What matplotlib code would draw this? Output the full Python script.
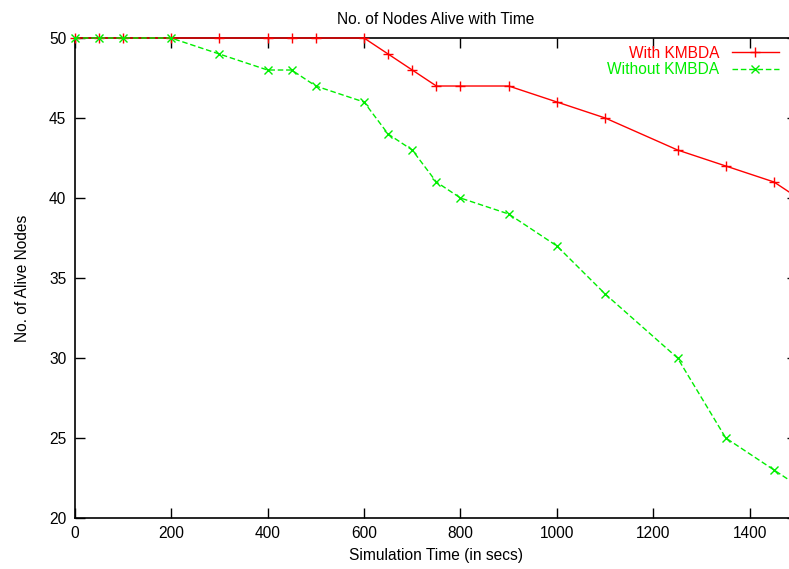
import matplotlib
matplotlib.use("Agg")
import matplotlib.pyplot as plt

plt.rcParams['font.family'] = ['Liberation Sans', 'DejaVu Sans']

time = [0, 50, 100, 200, 300, 400, 450, 500, 600, 650, 700, 750, 800, 900,
        1000, 1100, 1250, 1350, 1450, 1500]
with_kmbda = [50, 50, 50, 50, 50, 50, 50, 50, 50, 49, 48, 47, 47, 47,
              46, 45, 43, 42, 41, 40]
without_kmbda = [50, 50, 50, 50, 49, 48, 48, 47, 46, 44, 43, 41, 40, 39,
                 37, 34, 30, 25, 23, 22]
xticks = [0, 200, 400, 600, 800, 1000, 1200, 1400]
yticks = [20, 25, 30, 35, 40, 45, 50]

fig = plt.figure(figsize=(7.89, 5.69), dpi=100)
ax = fig.add_axes([0.0945, 0.0896, 0.9055 + 0.01, 0.8436])

fs = 11.2
ax.plot(time, with_kmbda, color='#ff0000', lw=1.0, marker='+', ms=7, mew=1.0,
        label='With KMBDA', clip_on=False, zorder=3)
ax.plot(time, without_kmbda, color='#00ee00', lw=1.0, ls=(0, (4, 2)), marker='x',
        ms=6, mew=1.0, label='Without KMBDA', clip_on=False, zorder=3)

ax.set_xlim(0, 1481 + 1481 * 0.01 / 0.9055)
ax.set_ylim(20, 50)
ax.set_xticks(xticks)
ax.set_yticks(yticks)
ax.tick_params(direction='in', length=7, width=1, labelsize=fs, top=True, right=True, pad=6)
for s in ax.spines.values():
    s.set_linewidth(1.2)

ax.set_title('No. of Nodes Alive with Time', fontsize=fs, pad=10)
ax.set_xlabel('Simulation Time (in secs)', fontsize=fs, labelpad=5)
ax.set_ylabel('No. of Alive Nodes', fontsize=fs, labelpad=14)

leg = ax.legend(loc='upper right', bbox_to_anchor=(0.9855, 1.0), frameon=False,
                markerfirst=False, labelcolor='linecolor', fontsize=fs,
                handlelength=3.0, handletextpad=0.8, labelspacing=0.08, borderaxespad=0.1,
                numpoints=1)

fig.savefig('out.png', dpi=100)
